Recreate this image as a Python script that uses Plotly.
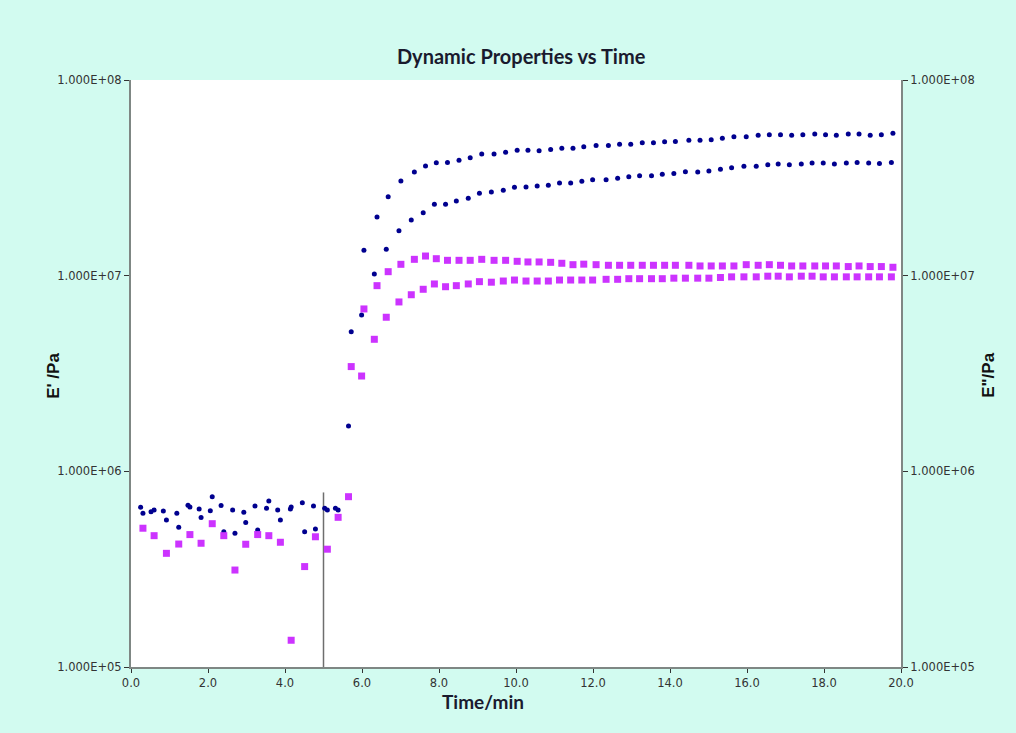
import plotly.graph_objects as go

# ---- data ----
t_upper = [0.31, 0.60, 0.92, 1.24, 1.53, 1.82, 2.11, 2.41, 2.70, 2.98, 3.29, 3.58, 3.88, 4.16, 4.51, 4.79, 5.10, 5.38,
           5.72, 6.05, 6.39, 6.68, 7.01, 7.36, 7.65, 7.93, 8.22, 8.52, 8.81, 9.11, 9.43, 9.73, 10.03, 10.31, 10.60, 10.90,
           11.19, 11.48, 11.76, 12.08, 12.40, 12.69, 12.98, 13.28, 13.57, 13.86, 14.14, 14.49, 14.78, 15.07, 15.36, 15.66,
           15.98, 16.29, 16.58, 16.87, 17.16, 17.45, 17.76, 18.04, 18.32, 18.63, 18.91, 19.20, 19.49, 19.79]

t_lower = [0.25, 0.52, 0.84, 1.19, 1.48, 1.77, 2.06, 2.34, 2.64, 2.93, 3.22, 3.52, 3.81, 4.14, 4.45, 4.74, 5.03, 5.31,
           5.65, 5.99, 6.32, 6.63, 6.96, 7.28, 7.59, 7.88, 8.17, 8.45, 8.76, 9.05, 9.36, 9.67, 9.96, 10.26, 10.55, 10.84,
           11.13, 11.42, 11.71, 11.99, 12.34, 12.64, 12.93, 13.21, 13.52, 13.80, 14.10, 14.40, 14.72, 15.01, 15.31, 15.60,
           15.92, 16.24, 16.54, 16.81, 17.10, 17.41, 17.69, 17.98, 18.27, 18.58, 18.86, 19.16, 19.44, 19.75]

e1_upper = [6.10e5, 6.34e5, 5.64e5, 5.18e5, 6.57e5, 5.80e5, 7.42e5, 4.91e5, 4.82e5, 5.47e5, 5.01e5, 7.05e5, 5.64e5,
            6.57e5, 4.91e5, 5.08e5, 6.34e5, 6.34e5,
            5.17e6, 1.348e7, 1.994e7, 2.533e7, 3.047e7, 3.387e7, 3.636e7, 3.780e7, 3.79e7, 3.89e7, 4.01e7, 4.19e7,
            4.19e7, 4.27e7, 4.37e7, 4.37e7, 4.35e7, 4.42e7,
            4.48e7, 4.48e7, 4.56e7, 4.62e7, 4.62e7, 4.69e7, 4.70e7, 4.78e7, 4.78e7, 4.84e7, 4.85e7, 4.92e7, 4.92e7,
            4.95e7, 5.04e7, 5.13e7, 5.13e7, 5.22e7, 5.25e7, 5.25e7, 5.22e7, 5.25e7, 5.30e7, 5.25e7, 5.22e7, 5.30e7,
            5.30e7, 5.22e7, 5.25e7, 5.34e7]

e1_lower = [6.55e5, 6.22e5, 6.27e5, 6.10e5, 6.71e5, 6.42e5, 6.29e5, 6.68e5, 6.34e5, 6.17e5, 6.65e5, 6.47e5, 6.34e5,
            6.42e5, 6.91e5, 6.65e5, 6.47e5, 6.47e5,
            1.705e6, 6.30e6, 1.020e7, 1.364e7, 1.697e7, 1.925e7, 2.098e7, 2.316e7, 2.316e7, 2.408e7, 2.486e7, 2.636e7,
            2.677e7, 2.731e7, 2.829e7, 2.84e7, 2.873e7, 2.90e7,
            2.976e7, 2.976e7, 3.04e7, 3.09e7, 3.09e7, 3.146e7, 3.205e7, 3.24e7, 3.24e7, 3.297e7, 3.33e7, 3.40e7, 3.39e7,
            3.43e7, 3.497e7, 3.563e7, 3.62e7, 3.62e7, 3.69e7, 3.72e7, 3.69e7, 3.72e7, 3.765e7, 3.765e7, 3.72e7, 3.765e7,
            3.79e7, 3.765e7, 3.74e7, 3.79e7]

e2_upper = [5.12e5, 4.69e5, 3.81e5, 4.25e5, 4.75e5, 4.29e5, 5.40e5, 4.69e5, 3.13e5, 4.24e5, 4.75e5, 4.69e5, 4.34e5,
            1.37e5, 3.26e5, 4.63e5, 4.00e5, 5.82e5,
            3.43e6, 6.76e6, 8.89e6, 1.048e7, 1.143e7, 1.212e7, 1.260e7, 1.221e7, 1.198e7, 1.198e7, 1.198e7, 1.212e7,
            1.198e7, 1.198e7, 1.184e7, 1.175e7, 1.175e7, 1.170e7,
            1.157e7, 1.138e7, 1.145e7, 1.138e7, 1.130e7, 1.130e7, 1.130e7, 1.130e7, 1.130e7, 1.130e7, 1.130e7, 1.130e7,
            1.121e7, 1.121e7, 1.121e7, 1.121e7, 1.138e7, 1.130e7, 1.138e7, 1.130e7, 1.121e7, 1.121e7, 1.121e7, 1.121e7,
            1.121e7, 1.113e7, 1.121e7, 1.113e7, 1.113e7, 1.104e7]

e2_lower = [None] * 18 + [
            7.42e5, 3.07e6, 4.73e6, 6.13e6, 7.34e6, 7.99e6, 8.52e6, 9.07e6, 8.78e6, 8.89e6, 9.07e6, 9.32e6,
            9.26e6, 9.39e6, 9.50e6, 9.39e6, 9.39e6, 9.39e6,
            9.50e6, 9.50e6, 9.50e6, 9.50e6, 9.58e6, 9.58e6, 9.65e6, 9.65e6, 9.65e6, 9.65e6, 9.71e6, 9.71e6, 9.71e6,
            9.71e6, 9.79e6, 9.86e6, 9.86e6, 9.86e6, 9.94e6, 9.94e6, 9.86e6, 9.94e6, 9.94e6, 9.86e6, 9.86e6, 9.86e6,
            9.86e6, 9.86e6, 9.86e6, 9.86e6]

marker_x = [5.0, 5.0]
marker_y = [1.0e5, 7.8e5]

x_ticks = [0, 2, 4, 6, 8, 10, 12, 14, 16, 18, 20]
y_tickvals = [1e5, 1e6, 1e7, 1e8]
y_ticktext = ["1.000E+05", "1.000E+06", "1.000E+07", "1.000E+08"]

BLUE = "#00008F"
MAGENTA = "#CC33FF"
AXIS = "#7F8784"
TICKFONT = dict(family="DejaVu Sans, Verdana, sans-serif", size=11.5, color="#333333")

fig = go.Figure()

fig.add_trace(go.Scatter(x=marker_x, y=marker_y, mode="lines",
                         line=dict(color="#6E6E6E", width=1.5), showlegend=False, hoverinfo="skip"))

fig.add_trace(go.Scatter(x=t_upper, y=e1_upper, mode="markers", name="E' upper",
                         marker=dict(symbol="circle", size=5, color=BLUE)))
fig.add_trace(go.Scatter(x=t_lower, y=e1_lower, mode="markers", name="E' lower",
                         marker=dict(symbol="circle", size=5, color=BLUE)))
fig.add_trace(go.Scatter(x=t_upper, y=e2_upper, mode="markers", name="E'' upper", yaxis="y2",
                         marker=dict(symbol="square", size=7, color=MAGENTA)))
fig.add_trace(go.Scatter(x=t_lower, y=e2_lower, mode="markers", name="E'' lower", yaxis="y2",
                         marker=dict(symbol="square", size=7, color=MAGENTA)))

yaxis_common = dict(type="log", range=[5, 8], tickvals=y_tickvals, ticktext=y_ticktext,
                    showgrid=False, zeroline=False, showline=True, linecolor=AXIS, linewidth=2,
                    ticks="outside", ticklen=5, tickcolor="#333333", tickfont=TICKFONT)

fig.update_layout(
    width=1016, height=733,
    paper_bgcolor="#D2FBF0", plot_bgcolor="white",
    margin=dict(l=131, r=115, t=80, b=66),
    showlegend=False,
    xaxis=dict(range=[0, 20], tickvals=x_ticks, tickformat=".1f", showgrid=False, zeroline=False,
               showline=True, linecolor=AXIS, linewidth=2, ticks="outside", ticklen=4,
               tickcolor="#333333", tickfont=TICKFONT),
    yaxis=dict(side="left", **yaxis_common),
    yaxis2=dict(side="right", overlaying="y", **yaxis_common),
    annotations=[
        dict(text="<b>Dynamic Properties vs Time</b>", x=0.5065, y=1.0647, xref="paper", yref="paper",
             showarrow=False, font=dict(family="Lato, Open Sans, sans-serif", size=20, color="#1a1a2e")),
        dict(text="<b>Time/min</b>", x=0.457, y=-0.0826, xref="paper", yref="paper", showarrow=False,
             font=dict(family="Lato, Open Sans, sans-serif", size=19, color="#1a1a2e")),
        dict(text="<b>E' /Pa</b>", x=-0.1156, y=0.497, xref="paper", yref="paper", showarrow=False,
             textangle=-90, font=dict(family="Liberation Sans, Arial, sans-serif", size=17, color="#111111")),
        dict(text="<b>E\"/Pa</b>", x=1.1286, y=0.497, xref="paper", yref="paper", showarrow=False,
             textangle=-90, font=dict(family="Liberation Sans, Arial, sans-serif", size=17, color="#111111")),
    ],
)

fig.write_html("out.html", config={"displayModeBar": False},
               post_script="document.body.style.margin='0px'; document.body.style.overflow='hidden';")
